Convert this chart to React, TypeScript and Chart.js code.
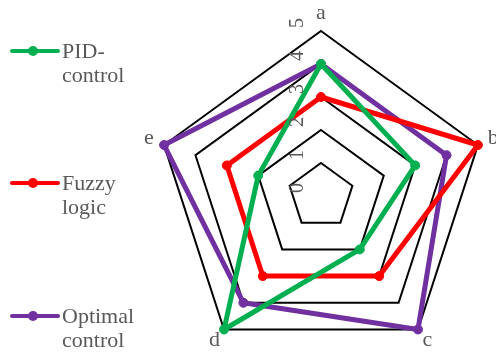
import React, { useEffect, useRef } from "react";
import { Chart, registerables } from "chart.js";

Chart.register(...registerables);

const categories = ["a", "b", "c", "d", "e"];
const pidValues = [4, 3, 2, 5, 2];
const fuzzyValues = [3, 5, 3, 3, 3];
const optimalValues = [4, 4, 5, 4, 5];
const seriesNames = [["PID-", "control"], ["Fuzzy", "logic"], ["Optimal", "control"]];
const seriesColors = ["#00B050", "#FF0000", "#7030A0"];
const scaleMin = 0;
const scaleMax = 5;
const scaleStep = 1;

const TEXT_COLOR = "#595959";
const FONT = '"Liberation Serif", "DejaVu Serif", serif';

const textPlugin = {
  id: "radarText",
  afterDatasetsDraw(chart: any) {
    const scale = chart.scales.r;
    const ctx = chart.ctx;
    ctx.save();
    ctx.fillStyle = TEXT_COLOR;
    ctx.textAlign = "center";
    ctx.textBaseline = "middle";
    ctx.font = `22px ${FONT}`;
    const outer = scale.drawingArea + 16;
    categories.forEach((c, i) => {
      const p = scale.getPointPosition(i, outer);
      ctx.fillText(c, p.x, p.y - 2);
    });
    ctx.font = `20px ${FONT}`;
    scale.ticks.forEach((t: any) => {
      const d = scale.getDistanceFromCenterForValue(t.value);
      ctx.save();
      ctx.translate(scale.xCenter - 23, scale.yCenter - d - 8);
      ctx.rotate(-Math.PI / 2);
      ctx.fillText(String(t.label ?? t.value), 0, 0);
      ctx.restore();
    });
    ctx.restore();
  },
};

const legendY = [51, 183, 316];

export default function App() {
  const ref = useRef<HTMLCanvasElement | null>(null);

  useEffect(() => {
    if (!ref.current) return;
    const values = [pidValues, fuzzyValues, optimalValues];
    const chart = new Chart(ref.current, {
      type: "radar",
      data: {
        labels: categories,
        datasets: values.map((v, i) => ({
          label: seriesNames[i].join(" "),
          data: v,
          borderColor: seriesColors[i],
          backgroundColor: seriesColors[i],
          pointBackgroundColor: seriesColors[i],
          pointBorderColor: seriesColors[i],
          borderWidth: 5,
          pointRadius: 4.5,
          pointBorderWidth: 1,
          borderJoinStyle: "round" as const,
          fill: false,
        })),
      },
      options: {
        animation: false,
        responsive: false,
        devicePixelRatio: 1,
        layout: { padding: { left: 156, right: 10, top: 31, bottom: 39 } },
        plugins: { legend: { display: false }, tooltip: { enabled: false } },
        scales: {
          r: {
            min: scaleMin,
            max: scaleMax,
            ticks: { display: false, stepSize: scaleStep },
            pointLabels: { display: false },
            angleLines: { display: false },
            grid: { color: "#000000", lineWidth: 2 },
          },
        },
      },
      plugins: [textPlugin],
    });
    return () => chart.destroy();
  }, []);

  return (
    <div
      style={{
        position: "fixed",
        left: 0,
        top: 0,
        width: 496,
        height: 356,
        overflow: "hidden",
        background: "#ffffff",
      }}
    >
      <canvas ref={ref} width={496} height={400} style={{ position: "absolute", left: 0, top: 0, width: 496, height: 400 }} />
      {seriesNames.map((name, i) => (
        <div key={i}>
          <div
            style={{
              position: "absolute",
              left: 10,
              top: legendY[i] - 2,
              width: 50,
              height: 4,
              background: seriesColors[i],
              borderRadius: 2,
            }}
          />
          <div
            style={{
              position: "absolute",
              left: 28,
              top: legendY[i] - 5,
              width: 10,
              height: 10,
              borderRadius: "50%",
              background: seriesColors[i],
            }}
          />
          <div
            style={{
              position: "absolute",
              left: 62,
              top: legendY[i] - 12,
              fontFamily: FONT,
              fontSize: 22,
              lineHeight: "24px",
              color: TEXT_COLOR,
              whiteSpace: "nowrap",
            }}
          >
            {name.map((line, j) => (
              <div key={j}>{line}</div>
            ))}
          </div>
        </div>
      ))}
    </div>
  );
}
